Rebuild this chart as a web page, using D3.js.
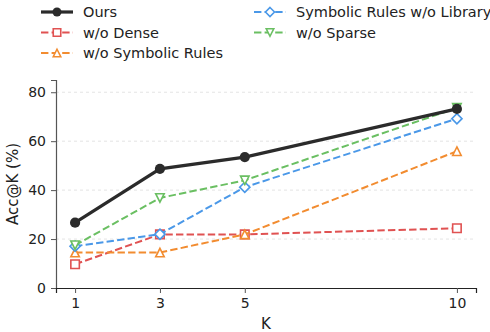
<!DOCTYPE html>
<html>
<head>
<meta charset="utf-8">
<script src="https://cdn.jsdelivr.net/npm/d3@7"></script>
<style>
  body { margin: 0; background: #fff; }
  svg { font-family: "DejaVu Sans", sans-serif; }
</style>
</head>
<body>
<div id="okvir"></div>
<script>
// podaci
const kVrijednosti = [1, 3, 5, 10]
const yTicks = [0, 20, 40, 60, 80]

const ours = [26.7, 48.7, 53.5, 73.2]
const bezDense = [9.7, 21.9, 21.9, 24.4]
const bezSymbolic = [14.5, 14.5, 21.9, 55.9]
const symbolicBezLib = [17.1, 22.0, 41.2, 69.2]
const bezSparse = [17.5, 36.8, 44.0, 73.6]

const serije = [
  { ime: "w/o Dense", vrijednosti: bezDense, boja: "#e05252", marker: "square" },
  { ime: "w/o Symbolic Rules", vrijednosti: bezSymbolic, boja: "#f28c30", marker: "triangle" },
  { ime: "Symbolic Rules w/o Library", vrijednosti: symbolicBezLib, boja: "#4a98e8", marker: "diamond" },
  { ime: "w/o Sparse", vrijednosti: bezSparse, boja: "#6abf62", marker: "triangleDown" },
  { ime: "Ours", vrijednosti: ours, boja: "#2b2b2b", marker: "circle" },
]

const dim = { sirina: 490, visina: 332, margine: { top: 80, right: 14, bottom: 44, left: 56 } }
dim.grSirina = dim.sirina - dim.margine.left - dim.margine.right
dim.grVisina = dim.visina - dim.margine.top - dim.margine.bottom

const svg = d3.select("#okvir").append("svg")
  .attr("width", dim.sirina)
  .attr("height", dim.visina)

const g = svg.append("g")
  .attr("transform", `translate(${dim.margine.left},${dim.margine.top})`)

const xSkala = d3.scaleLinear().domain([0.55, 10.45]).range([0, dim.grSirina])
const ySkala = d3.scaleLinear().domain([0, 85]).range([dim.grVisina, 0])

// mreza
g.append("g").selectAll("line")
  .data(yTicks.filter(d => d > 0))
  .join("line")
    .attr("x1", 0).attr("x2", dim.grSirina)
    .attr("y1", d => ySkala(d)).attr("y2", d => ySkala(d))
    .attr("stroke", "#dddddd")
    .attr("stroke-width", 0.8)
    .attr("stroke-dasharray", "3,3")

// osi
const yOs = g.append("g")
  .call(d3.axisLeft(ySkala).tickValues(yTicks).tickSize(5).tickPadding(5))
yOs.select(".domain").attr("stroke", "#555").attr("stroke-width", 1.2)
yOs.selectAll(".tick line").attr("stroke", "#555")
yOs.selectAll("text").attr("font-size", 14).attr("fill", "#222").attr("font-family", "DejaVu Sans")

const xOs = g.append("g")
  .attr("transform", `translate(0,${dim.grVisina})`)
  .call(d3.axisBottom(xSkala).tickValues(kVrijednosti).tickSize(5).tickPadding(5))
xOs.select(".domain").attr("stroke", "#222").attr("stroke-width", 1.2)
xOs.selectAll(".tick line").attr("stroke", "#555")
xOs.selectAll("text").attr("font-size", 14).attr("fill", "#222").attr("font-family", "DejaVu Sans")

svg.append("text")
  .attr("x", dim.margine.left + xSkala(5.5)).attr("y", 329)
  .attr("text-anchor", "middle")
  .attr("font-size", 15).attr("fill", "#222")
  .text("K")

svg.append("text")
  .attr("transform", `translate(18,${dim.margine.top + dim.grVisina / 2}) rotate(-90)`)
  .attr("text-anchor", "middle")
  .attr("font-size", 15).attr("fill", "#222")
  .text("Acc@K (%)")

// markeri (oblici u stilu matplotliba)
function putanjaMarkera(tip, v) {
  const h = v / 2
  if (tip === "square") return `M${-h},${-h}H${h}V${h}H${-h}Z`
  if (tip === "triangle") return `M0,${-h}L${h},${h}L${-h},${h}Z`
  if (tip === "triangleDown") return `M0,${h}L${h},${-h}L${-h},${-h}Z`
  if (tip === "diamond") { const d = h * 1.2; return `M0,${-d}L${d},0L0,${d}L${-d},0Z` }
}

function crtajMarker(sel, s, velicina) {
  if (s.marker === "circle") {
    sel.append("circle").attr("r", velicina * 0.6).attr("fill", s.boja)
    return
  }
  sel.append("path")
    .attr("d", putanjaMarkera(s.marker, velicina))
    .attr("fill", "white")
    .attr("stroke", s.boja)
    .attr("stroke-width", 1.6)
    .attr("stroke-linejoin", "miter")
}

const linija = d3.line()
  .x((d, i) => xSkala(kVrijednosti[i]))
  .y(d => ySkala(d))

serije.forEach(s => {
  const jeOurs = s.ime === "Ours"
  g.append("path")
    .attr("d", linija(s.vrijednosti))
    .attr("fill", "none")
    .attr("stroke", s.boja)
    .attr("stroke-width", jeOurs ? 3.2 : 2)
    .attr("stroke-dasharray", jeOurs ? null : "7.4,3.2")
  s.vrijednosti.forEach((v, i) => {
    const m = g.append("g")
      .attr("transform", `translate(${xSkala(kVrijednosti[i])},${ySkala(v)})`)
    crtajMarker(m, s, 8.5)
  })
})

// legenda
const legendaRed = ["Ours", "w/o Dense", "w/o Symbolic Rules", "Symbolic Rules w/o Library", "w/o Sparse"]
const legenda = svg.append("g")
legendaRed.forEach((ime, i) => {
  const s = serije.find(d => d.ime === ime)
  const kol = i < 3 ? 0 : 1
  const red = i < 3 ? i : i - 3
  const x0 = kol === 0 ? 41 : 254
  const y0 = 12 + red * 20.5
  const stavka = legenda.append("g").attr("transform", `translate(${x0},${y0})`)
  const jeOurs = ime === "Ours"
  stavka.append("line")
    .attr("x1", 0).attr("x2", 32).attr("y1", 0).attr("y2", 0)
    .attr("stroke", s.boja)
    .attr("stroke-width", jeOurs ? 3.2 : 2)
    .attr("stroke-dasharray", jeOurs ? null : "7.4,3.2")
  const m = stavka.append("g").attr("transform", "translate(16,0)")
  crtajMarker(m, s, 7.5)
  stavka.append("text")
    .attr("x", 42).attr("y", 0).attr("dy", "0.35em")
    .attr("font-size", 14.5).attr("fill", "#222")
    .text(ime)
})
</script>
</body>
</html>
